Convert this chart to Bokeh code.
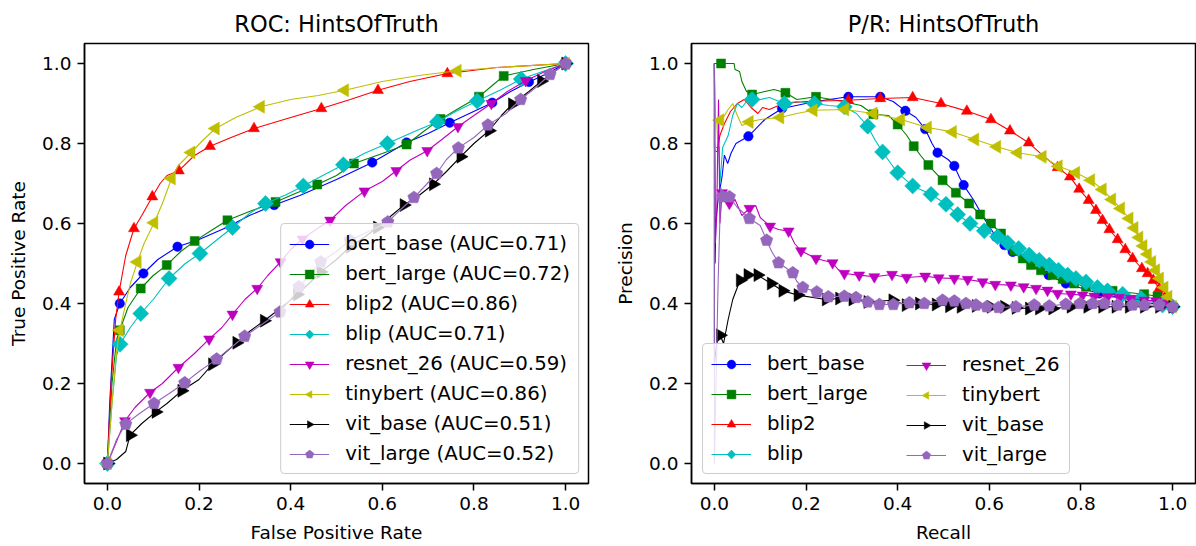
import math
from bokeh.plotting import figure
from bokeh.layouts import row
from bokeh.models import Range1d, FixedTicker, Legend, LegendItem
from bokeh.embed import file_html
from bokeh.resources import INLINE

# ---------------- data ----------------
MODELS = ["bert_base", "bert_large", "blip2", "blip", "resnet_26", "tinybert", "vit_base", "vit_large"]
ROC_AUC = [0.71, 0.72, 0.86, 0.71, 0.59, 0.86, 0.51, 0.52]
TICKS = [0.0, 0.2, 0.4, 0.6, 0.8, 1.0]
TICK_LABELS = ["0.0", "0.2", "0.4", "0.6", "0.8", "1.0"]

# ROC curves: (FPR, TPR) polyline points and marker points
roc_bert_base_line = [(0, 0), (0.005, 0.15), (0.015, 0.36), (0.027, 0.40), (0.05, 0.44), (0.0785, 0.475), (0.11, 0.51), (0.153, 0.542), (0.2, 0.56), (0.26, 0.59), (0.31, 0.62), (0.364, 0.646), (0.42, 0.67), (0.5, 0.71), (0.578, 0.7525), (0.653, 0.8025), (0.7, 0.825), (0.747, 0.852), (0.79, 0.875), (0.84, 0.902), (0.88, 0.93), (0.92, 0.954), (0.96, 0.975), (1, 1)]
roc_bert_base_marks = [(0, 0), (0.027, 0.40), (0.0785, 0.475), (0.153, 0.542), (0.364, 0.646), (0.578, 0.7525), (0.653, 0.8025), (0.747, 0.852), (0.84, 0.902), (0.92, 0.954), (1, 1)]

roc_bert_large_line = [(0, 0), (0.01, 0.2), (0.02, 0.31), (0.027, 0.333), (0.045, 0.39), (0.0727, 0.4375), (0.1, 0.47), (0.1295, 0.496), (0.16, 0.53), (0.1905, 0.556), (0.23, 0.585), (0.262, 0.608), (0.31, 0.63), (0.367, 0.654), (0.41, 0.675), (0.458, 0.6975), (0.5, 0.72), (0.538, 0.75), (0.6, 0.775), (0.653, 0.7975), (0.69, 0.83), (0.727, 0.861), (0.77, 0.89), (0.811, 0.917), (0.84, 0.945), (0.865, 0.969), (0.93, 0.985), (1, 1)]
roc_bert_large_marks = [(0, 0), (0.027, 0.333), (0.0727, 0.4375), (0.1295, 0.496), (0.1905, 0.556), (0.262, 0.608), (0.367, 0.654), (0.458, 0.6975), (0.538, 0.75), (0.653, 0.7975), (0.727, 0.861), (0.811, 0.917), (0.865, 0.969), (1, 1)]

roc_blip2_line = [(0, 0), (0.008, 0.2), (0.018, 0.36), (0.0255, 0.429), (0.04, 0.52), (0.058, 0.5875), (0.075, 0.62), (0.098, 0.667), (0.115, 0.7), (0.13, 0.72), (0.156, 0.732), (0.19, 0.77), (0.224, 0.793), (0.27, 0.815), (0.32, 0.8375), (0.4, 0.865), (0.467, 0.8875), (0.53, 0.91), (0.5905, 0.933), (0.66, 0.955), (0.742, 0.975), (0.85, 0.99), (1, 1)]
roc_blip2_marks = [(0, 0), (0.0255, 0.429), (0.058, 0.5875), (0.098, 0.667), (0.156, 0.732), (0.224, 0.793), (0.32, 0.8375), (0.467, 0.8875), (0.5905, 0.933), (0.742, 0.975), (1, 1)]

roc_blip_line = [(0, 0), (0.01, 0.15), (0.02, 0.27), (0.0276, 0.298), (0.05, 0.34), (0.0727, 0.375), (0.1, 0.41), (0.1345, 0.4625), (0.17, 0.5), (0.202, 0.525), (0.24, 0.56), (0.273, 0.59), (0.31, 0.625), (0.345, 0.65), (0.39, 0.672), (0.4276, 0.694), (0.47, 0.72), (0.515, 0.747), (0.56, 0.775), (0.611, 0.8), (0.67, 0.83), (0.72, 0.854), (0.76, 0.88), (0.807, 0.906), (0.86, 0.935), (0.903, 0.961), (0.95, 0.98), (1, 1)]
roc_blip_marks = [(0, 0), (0.0276, 0.298), (0.0727, 0.375), (0.1345, 0.4625), (0.202, 0.525), (0.273, 0.59), (0.345, 0.65), (0.4276, 0.694), (0.515, 0.747), (0.611, 0.8), (0.72, 0.854), (0.807, 0.906), (0.903, 0.961), (1, 1)]

roc_resnet_26_line = [(0, 0), (0.0385, 0.1067), (0.06, 0.14), (0.093, 0.1775), (0.12, 0.2), (0.155, 0.24), (0.19, 0.275), (0.222, 0.311), (0.25, 0.34), (0.273, 0.373), (0.3, 0.41), (0.327, 0.4375), (0.35, 0.47), (0.378, 0.504), (0.4, 0.535), (0.4255, 0.561), (0.455, 0.585), (0.486, 0.608), (0.52, 0.645), (0.561, 0.681), (0.6, 0.705), (0.6305, 0.732), (0.66, 0.758), (0.698, 0.782), (0.73, 0.81), (0.765, 0.842), (0.8, 0.87), (0.838, 0.9), (0.873, 0.93), (0.913, 0.957), (0.955, 0.98), (1, 1)]
roc_resnet_26_marks = [(0, 0), (0.0385, 0.1067), (0.093, 0.1775), (0.155, 0.24), (0.222, 0.311), (0.273, 0.373), (0.327, 0.4375), (0.378, 0.504), (0.4255, 0.561), (0.486, 0.608), (0.561, 0.681), (0.6305, 0.732), (0.698, 0.782), (0.765, 0.842), (0.838, 0.9), (0.913, 0.957), (1, 1)]

roc_tinybert_line = [(0, 0), (0.01, 0.15), (0.02, 0.28), (0.027, 0.333), (0.04, 0.4), (0.05, 0.45), (0.0655, 0.504), (0.08, 0.55), (0.102, 0.6017), (0.12, 0.65), (0.14, 0.7125), (0.155, 0.745), (0.183, 0.7775), (0.21, 0.81), (0.236, 0.8375), (0.28, 0.865), (0.3345, 0.8917), (0.4, 0.91), (0.46, 0.92), (0.518, 0.933), (0.6, 0.955), (0.68, 0.97), (0.764, 0.9817), (0.85, 0.99), (1, 1)]
roc_tinybert_marks = [(0, 0), (0.027, 0.333), (0.0655, 0.504), (0.102, 0.6017), (0.14, 0.7125), (0.183, 0.7775), (0.236, 0.8375), (0.3345, 0.8917), (0.518, 0.933), (0.764, 0.9817), (1, 1)]

roc_vit_base_line = [(0, 0), (0.02, 0.01), (0.04, 0.03), (0.0495, 0.0708), (0.075, 0.1), (0.1055, 0.129), (0.13, 0.15), (0.162, 0.1817), (0.2, 0.21), (0.229, 0.248), (0.26, 0.28), (0.282, 0.3017), (0.31, 0.33), (0.342, 0.357), (0.38, 0.39), (0.4145, 0.4225), (0.44, 0.45), (0.4655, 0.479), (0.5, 0.51), (0.5295, 0.5417), (0.56, 0.565), (0.589, 0.59), (0.62, 0.62), (0.647, 0.646), (0.68, 0.67), (0.711, 0.698), (0.74, 0.73), (0.771, 0.767), (0.8, 0.8), (0.833, 0.832), (0.86, 0.87), (0.8836, 0.898), (0.92, 0.93), (0.947, 0.956), (1, 1)]
roc_vit_base_marks = [(0, 0), (0.0495, 0.0708), (0.1055, 0.129), (0.162, 0.1817), (0.229, 0.248), (0.282, 0.3017), (0.342, 0.357), (0.4145, 0.4225), (0.4655, 0.479), (0.5295, 0.5417), (0.589, 0.59), (0.647, 0.646), (0.711, 0.698), (0.771, 0.767), (0.833, 0.832), (0.8836, 0.898), (0.947, 0.956), (1, 1)]

roc_vit_large_line = [(0, 0), (0.02, 0.06), (0.04, 0.0983), (0.07, 0.125), (0.1018, 0.15), (0.135, 0.175), (0.1687, 0.2017), (0.2, 0.23), (0.2385, 0.261), (0.27, 0.29), (0.2996, 0.318), (0.34, 0.35), (0.3767, 0.379), (0.4, 0.41), (0.418, 0.4417), (0.44, 0.47), (0.4655, 0.504), (0.5, 0.53), (0.5295, 0.558), (0.57, 0.58), (0.612, 0.604), (0.64, 0.635), (0.669, 0.665), (0.69, 0.69), (0.7185, 0.725), (0.74, 0.76), (0.766, 0.789), (0.8, 0.815), (0.8305, 0.846), (0.87, 0.875), (0.902, 0.91), (0.935, 0.94), (0.966, 0.9725), (1, 1)]
roc_vit_large_marks = [(0, 0), (0.04, 0.0983), (0.1018, 0.15), (0.1687, 0.2017), (0.2385, 0.261), (0.2996, 0.318), (0.3767, 0.379), (0.418, 0.4417), (0.4655, 0.504), (0.5295, 0.558), (0.612, 0.604), (0.669, 0.665), (0.7185, 0.725), (0.766, 0.789), (0.8305, 0.846), (0.902, 0.91), (0.966, 0.9725), (1, 1)]

# Precision/recall curves: (Recall, Precision)
pr_bert_base_line = [(0, 1.0), (0.0015, 0.5), (0.003, 0.6), (0.008, 0.66), (0.0167, 0.717), (0.0218, 0.771), (0.029, 0.75), (0.036, 0.775), (0.047, 0.8), (0.0742, 0.818), (0.11, 0.86), (0.1476, 0.8875), (0.22, 0.905), (0.2924, 0.9167), (0.362, 0.9167), (0.39, 0.905), (0.4167, 0.8817), (0.44, 0.865), (0.46, 0.836), (0.475, 0.8), (0.487, 0.777), (0.51, 0.76), (0.5236, 0.744), (0.535, 0.715), (0.544, 0.696), (0.565, 0.66), (0.59, 0.61), (0.6145, 0.5667), (0.633, 0.546), (0.651, 0.529), (0.69, 0.495), (0.7295, 0.471), (0.767, 0.45), (0.84, 0.425), (0.9127, 0.408), (1.0, 0.392)]
pr_bert_base_marks = [(0.0742, 0.818), (0.1476, 0.8875), (0.2924, 0.9167), (0.362, 0.9167), (0.4167, 0.8817), (0.46, 0.836), (0.487, 0.777), (0.5236, 0.744), (0.544, 0.696), (0.6145, 0.5667), (0.633, 0.546), (0.651, 0.529), (0.7295, 0.471), (0.767, 0.45), (0.84, 0.425), (0.9127, 0.408), (1.0, 0.392)]

pr_bert_large_line = [(0, 1.0), (0.0145, 1.0), (0.043, 1.0), (0.045, 0.985), (0.055, 0.98), (0.06, 0.955), (0.07, 0.93), (0.0822, 0.9225), (0.11, 0.93), (0.13, 0.935), (0.155, 0.9267), (0.18, 0.91), (0.2218, 0.9167), (0.28, 0.905), (0.32, 0.895), (0.347, 0.8733), (0.38, 0.87), (0.4, 0.8475), (0.42, 0.82), (0.435, 0.7933), (0.45, 0.77), (0.467, 0.746), (0.498, 0.708), (0.527, 0.677), (0.556, 0.65), (0.58, 0.6225), (0.6036, 0.6), (0.6255, 0.575), (0.6545, 0.5317), (0.673, 0.5125), (0.691, 0.496), (0.7127, 0.483), (0.738, 0.471), (0.76, 0.461), (0.785, 0.45), (0.811, 0.4417), (0.869, 0.4317), (0.938, 0.4233), (0.967, 0.418), (1.0, 0.392)]
pr_bert_large_marks = [(0.0145, 1.0), (0.0822, 0.9225), (0.155, 0.9267), (0.2218, 0.9167), (0.347, 0.8733), (0.4, 0.8475), (0.435, 0.7933), (0.467, 0.746), (0.498, 0.708), (0.527, 0.677), (0.556, 0.65), (0.58, 0.6225), (0.6036, 0.6), (0.6255, 0.575), (0.6545, 0.5317), (0.673, 0.5125), (0.691, 0.496), (0.7127, 0.483), (0.738, 0.471), (0.76, 0.461), (0.785, 0.45), (0.811, 0.4417), (0.869, 0.4317), (0.938, 0.4233), (0.967, 0.418), (1.0, 0.392)]

pr_blip2_line = [(0, 1.0), (0.002, 0.78), (0.006, 0.78), (0.012, 0.82), (0.022, 0.85), (0.035, 0.88), (0.05, 0.9), (0.065, 0.91), (0.08, 0.89), (0.095, 0.875), (0.105, 0.89), (0.12, 0.885), (0.15, 0.9), (0.2, 0.905), (0.2924, 0.908), (0.362, 0.9125), (0.4327, 0.915), (0.4945, 0.9), (0.551, 0.881), (0.6036, 0.86), (0.645, 0.8317), (0.686, 0.8017), (0.716, 0.771), (0.749, 0.74), (0.776, 0.7167), (0.796, 0.686), (0.8167, 0.658), (0.8327, 0.633), (0.847, 0.608), (0.862, 0.585), (0.88, 0.56), (0.8967, 0.535), (0.9127, 0.5125), (0.933, 0.4875), (0.9455, 0.475), (0.958, 0.458), (0.971, 0.4375), (0.984, 0.417), (1.0, 0.392)]
pr_blip2_marks = [(0.2924, 0.908), (0.362, 0.9125), (0.4327, 0.915), (0.4945, 0.9), (0.551, 0.881), (0.6036, 0.86), (0.645, 0.8317), (0.686, 0.8017), (0.749, 0.74), (0.776, 0.7167), (0.796, 0.686), (0.8167, 0.658), (0.8327, 0.633), (0.847, 0.608), (0.862, 0.585), (0.88, 0.56), (0.8967, 0.535), (0.9127, 0.5125), (0.933, 0.4875), (0.9455, 0.475), (0.958, 0.458), (0.971, 0.4375), (0.984, 0.417), (1.0, 0.392)]

pr_blip_line = [(0, 1.0), (0.0, 0.79), (0.01, 0.79), (0.012, 0.7), (0.018, 0.79), (0.03, 0.82), (0.04, 0.87), (0.05, 0.9), (0.06, 0.89), (0.07, 0.905), (0.0822, 0.91), (0.1, 0.91), (0.12, 0.915), (0.1527, 0.9), (0.18, 0.905), (0.218, 0.9), (0.25, 0.895), (0.2836, 0.8917), (0.31, 0.875), (0.3345, 0.8433), (0.35, 0.81), (0.367, 0.779), (0.385, 0.75), (0.4, 0.7267), (0.4327, 0.694), (0.4727, 0.673), (0.5055, 0.648), (0.531, 0.6225), (0.558, 0.6), (0.589, 0.5817), (0.618, 0.5667), (0.64, 0.5517), (0.664, 0.5375), (0.687, 0.521), (0.709, 0.508), (0.731, 0.496), (0.751, 0.483), (0.771, 0.471), (0.789, 0.4625), (0.811, 0.454), (0.836, 0.44), (0.858, 0.4317), (0.891, 0.4233), (0.931, 0.4125), (0.978, 0.396), (1.0, 0.392)]
pr_blip_marks = [(0.0822, 0.91), (0.1527, 0.9), (0.218, 0.9), (0.2836, 0.8917), (0.3345, 0.8433), (0.367, 0.779), (0.4, 0.7267), (0.4327, 0.694), (0.4727, 0.673), (0.5055, 0.648), (0.531, 0.6225), (0.558, 0.6), (0.589, 0.5817), (0.618, 0.5667), (0.64, 0.5517), (0.664, 0.5375), (0.687, 0.521), (0.709, 0.508), (0.731, 0.496), (0.751, 0.483), (0.771, 0.471), (0.789, 0.4625), (0.811, 0.454), (0.836, 0.44), (0.858, 0.4317), (0.891, 0.4233), (0.931, 0.4125), (0.978, 0.396), (1.0, 0.392)]

pr_resnet_26_line = [(0, 1.0), (0.002, 0.55), (0.005, 0.62), (0.009, 0.91), (0.012, 0.6), (0.0167, 0.6767), (0.025, 0.66), (0.0327, 0.65), (0.045, 0.66), (0.06, 0.62), (0.0764, 0.6375), (0.09, 0.645), (0.1, 0.615), (0.1215, 0.593), (0.14, 0.585), (0.162, 0.581), (0.175, 0.55), (0.189, 0.5317), (0.2218, 0.5125), (0.258, 0.5017), (0.27, 0.485), (0.2836, 0.475), (0.316, 0.471), (0.349, 0.4667), (0.3876, 0.4725), (0.4196, 0.465), (0.46, 0.468), (0.4895, 0.464), (0.5236, 0.4625), (0.5527, 0.46), (0.5855, 0.454), (0.613, 0.4475), (0.647, 0.446), (0.675, 0.4417), (0.702, 0.4375), (0.727, 0.433), (0.749, 0.425), (0.778, 0.4233), (0.8036, 0.421), (0.829, 0.418), (0.858, 0.4167), (0.8836, 0.415), (0.909, 0.4125), (0.938, 0.408), (0.9636, 0.4067), (0.982, 0.4), (1.0, 0.392)]
pr_resnet_26_marks = [(0.0167, 0.6767), (0.0327, 0.65), (0.0764, 0.6375), (0.1215, 0.593), (0.162, 0.581), (0.189, 0.5317), (0.2218, 0.5125), (0.258, 0.5017), (0.2836, 0.475), (0.316, 0.471), (0.349, 0.4667), (0.3876, 0.4725), (0.4196, 0.465), (0.46, 0.468), (0.4895, 0.464), (0.5236, 0.4625), (0.5527, 0.46), (0.5855, 0.454), (0.613, 0.4475), (0.647, 0.446), (0.675, 0.4417), (0.702, 0.4375), (0.727, 0.433), (0.749, 0.425), (0.778, 0.4233), (0.8036, 0.421), (0.829, 0.418), (0.858, 0.4167), (0.8836, 0.415), (0.909, 0.4125), (0.938, 0.408), (0.9636, 0.4067), (0.982, 0.4), (1.0, 0.392)]

pr_tinybert_line = [(0, 1.0), (0.001, 0.77), (0.004, 0.86), (0.0124, 0.8583), (0.022, 0.87), (0.03, 0.885), (0.04, 0.9), (0.05, 0.87), (0.06, 0.845), (0.0764, 0.854), (0.1, 0.86), (0.1433, 0.865), (0.18, 0.875), (0.216, 0.883), (0.285, 0.885), (0.347, 0.875), (0.407, 0.86), (0.4655, 0.84), (0.52, 0.829), (0.5687, 0.81), (0.6167, 0.7917), (0.662, 0.7767), (0.716, 0.7667), (0.751, 0.743), (0.789, 0.7267), (0.8218, 0.7083), (0.847, 0.685), (0.8676, 0.66), (0.887, 0.6375), (0.9055, 0.6125), (0.9164, 0.589), (0.927, 0.565), (0.936, 0.544), (0.9455, 0.523), (0.955, 0.504), (0.9636, 0.483), (0.972, 0.4625), (0.982, 0.44), (0.9905, 0.4167), (1.0, 0.392)]
pr_tinybert_marks = [(0.0124, 0.8583), (0.0764, 0.854), (0.1433, 0.865), (0.216, 0.883), (0.285, 0.885), (0.347, 0.875), (0.407, 0.86), (0.4655, 0.84), (0.52, 0.829), (0.5687, 0.81), (0.6167, 0.7917), (0.662, 0.7767), (0.716, 0.7667), (0.751, 0.743), (0.789, 0.7267), (0.8218, 0.7083), (0.847, 0.685), (0.8676, 0.66), (0.887, 0.6375), (0.9055, 0.6125), (0.9164, 0.589), (0.927, 0.565), (0.936, 0.544), (0.9455, 0.523), (0.955, 0.504), (0.9636, 0.483), (0.972, 0.4625), (0.982, 0.44), (0.9905, 0.4167), (1.0, 0.392)]

pr_vit_base_line = [(0, 1.0), (0.0, 0.25), (0.005, 0.3), (0.0124, 0.3208), (0.02, 0.3), (0.03, 0.36), (0.04, 0.41), (0.05, 0.44), (0.056, 0.4583), (0.0727, 0.471), (0.0945, 0.471), (0.1236, 0.45), (0.149, 0.4317), (0.182, 0.421), (0.2436, 0.41), (0.2727, 0.4125), (0.3018, 0.41), (0.3345, 0.404), (0.389, 0.408), (0.418, 0.396), (0.447, 0.4), (0.4836, 0.3975), (0.5127, 0.3933), (0.538, 0.3917), (0.571, 0.394), (0.6036, 0.3917), (0.6327, 0.3917), (0.658, 0.389), (0.687, 0.3875), (0.709, 0.3875), (0.738, 0.3875), (0.778, 0.3917), (0.8145, 0.3917), (0.847, 0.3917), (0.876, 0.3917), (0.905, 0.3917), (0.938, 0.3917), (0.971, 0.3917), (1.0, 0.3917)]
pr_vit_base_marks = [(0.0124, 0.3208), (0.056, 0.4583), (0.0727, 0.471), (0.0945, 0.471), (0.1236, 0.45), (0.149, 0.4317), (0.182, 0.421), (0.2436, 0.41), (0.2727, 0.4125), (0.3018, 0.41), (0.3345, 0.404), (0.389, 0.408), (0.418, 0.396), (0.447, 0.4), (0.4836, 0.3975), (0.5127, 0.3933), (0.538, 0.3917), (0.571, 0.394), (0.6036, 0.3917), (0.6327, 0.3917), (0.658, 0.389), (0.687, 0.3875), (0.709, 0.3875), (0.738, 0.3875), (0.778, 0.3917), (0.8145, 0.3917), (0.847, 0.3917), (0.876, 0.3917), (0.905, 0.3917), (0.938, 0.3917), (0.971, 0.3917), (1.0, 0.3917)]

pr_vit_large_line = [(0, 1.0), (0.0, 0.0), (0.008, 0.45), (0.014, 0.69), (0.0182, 0.6667), (0.025, 0.68), (0.0327, 0.6667), (0.05, 0.64), (0.06, 0.63), (0.0764, 0.6125), (0.1, 0.595), (0.114, 0.558), (0.125, 0.53), (0.14, 0.5017), (0.155, 0.49), (0.171, 0.4767), (0.18, 0.455), (0.193, 0.44), (0.2233, 0.429), (0.2487, 0.4167), (0.2836, 0.418), (0.309, 0.415), (0.3345, 0.404), (0.36, 0.3975), (0.3905, 0.3975), (0.4255, 0.4017), (0.458, 0.4), (0.498, 0.408), (0.5236, 0.406), (0.549, 0.4), (0.571, 0.396), (0.594, 0.3917), (0.62, 0.39), (0.658, 0.3917), (0.698, 0.396), (0.731, 0.394), (0.767, 0.398), (0.798, 0.4), (0.8255, 0.4), (0.851, 0.4), (0.88, 0.396), (0.9127, 0.396), (0.938, 0.396), (0.971, 0.396), (1.0, 0.392)]
pr_vit_large_marks = [(0.0182, 0.6667), (0.0327, 0.6667), (0.0764, 0.6125), (0.114, 0.558), (0.14, 0.5017), (0.171, 0.4767), (0.193, 0.44), (0.2233, 0.429), (0.2487, 0.4167), (0.2836, 0.418), (0.309, 0.415), (0.3345, 0.404), (0.36, 0.3975), (0.3905, 0.3975), (0.4255, 0.4017), (0.458, 0.4), (0.498, 0.408), (0.5236, 0.406), (0.549, 0.4), (0.571, 0.396), (0.594, 0.3917), (0.62, 0.39), (0.658, 0.3917), (0.698, 0.396), (0.731, 0.394), (0.767, 0.398), (0.798, 0.4), (0.8255, 0.4), (0.851, 0.4), (0.88, 0.396), (0.9127, 0.396), (0.938, 0.396), (0.971, 0.396), (1.0, 0.392)]

ROC_LINES = [roc_bert_base_line, roc_bert_large_line, roc_blip2_line, roc_blip_line,
             roc_resnet_26_line, roc_tinybert_line, roc_vit_base_line, roc_vit_large_line]
ROC_MARKS = [roc_bert_base_marks, roc_bert_large_marks, roc_blip2_marks, roc_blip_marks,
             roc_resnet_26_marks, roc_tinybert_marks, roc_vit_base_marks, roc_vit_large_marks]
PR_LINES = [pr_bert_base_line, pr_bert_large_line, pr_blip2_line, pr_blip_line,
            pr_resnet_26_line, pr_tinybert_line, pr_vit_base_line, pr_vit_large_line]
PR_MARKS = [pr_bert_base_marks, pr_bert_large_marks, pr_blip2_marks, pr_blip_marks,
            pr_resnet_26_marks, pr_tinybert_marks, pr_vit_base_marks, pr_vit_large_marks]

# ---------------- styles ----------------
# (color, kind, marker name or ngon sides, angle, size or radius)
STYLES = [
    ("#0000ff", "scatter", "circle", 0.0, 9.5),
    ("#008000", "scatter", "square", 0.0, 9),
    ("#ff0000", "scatter", "triangle", 0.0, 11),
    ("#00bfbf", "ngon", 4, 0.0, 8),
    ("#bf00bf", "scatter", "inverted_triangle", 0.0, 11),
    ("#bfbf00", "ngon", 3, math.pi / 2, 7.5),
    ("#000000", "ngon", 3, -math.pi / 2, 7.5),
    ("#9467bd", "ngon", 5, 0.0, 6.5),
]
FONT = "DejaVu Sans"
FS = "18.5px"
LFS = "19.8px"


def unzip(pts):
    return [a for a, _ in pts], [b for _, b in pts]


def make_fig(title, xlabel, ylabel, left_border, frame_w, right_border):
    p = figure(frame_width=frame_w, frame_height=440,
               min_border_left=left_border, min_border_right=right_border,
               min_border_top=43, min_border_bottom=63,
               x_range=Range1d(-0.05, 1.05), y_range=Range1d(-0.05, 1.05),
               output_backend="svg", toolbar_location=None, title=title)
    p.title.align = "center"
    p.title.text_font = FONT
    p.title.text_font_size = "22.5px"
    p.title.text_font_style = "normal"
    p.title.text_color = "black"
    p.title.standoff = 14
    p.xgrid.visible = False
    p.ygrid.visible = False
    p.outline_line_color = "black"
    p.outline_line_width = 1.5
    p.outline_line_alpha = 1.0
    p.background_fill_color = "white"
    p.border_fill_color = "white"
    overrides = {t: l for t, l in zip(TICKS, TICK_LABELS)}
    for ax, lab in ((p.xaxis[0], xlabel), (p.yaxis[0], ylabel)):
        ax.ticker = FixedTicker(ticks=TICKS)
        ax.major_label_overrides = overrides
        ax.axis_label = lab
        ax.axis_label_text_font = FONT
        ax.axis_label_text_font_size = FS
        ax.axis_label_text_font_style = "normal"
        ax.axis_label_text_color = "black"
        ax.major_label_text_font = FONT
        ax.major_label_text_font_size = FS
        ax.major_label_text_color = "black"
        ax.axis_line_color = "black"
        ax.axis_line_width = 1.5
        ax.major_tick_line_color = "black"
        ax.major_tick_line_width = 1.5
        ax.major_tick_out = 7
        ax.major_tick_in = 0
        ax.minor_tick_out = 0
        ax.minor_tick_in = 0
        ax.major_label_standoff = 6
    p.xaxis[0].axis_label_standoff = 9
    p.yaxis[0].axis_label_standoff = 10
    return p


def draw(p, lines, marks):
    items = []
    for (color, kind, mk_type, angle, size), ln, mk in zip(STYLES, lines, marks):
        lx, ly = unzip(ln)
        mx, my = unzip(mk)
        lr = p.line(lx, ly, line_color=color, line_width=1.1)
        sr = None
        if kind == "ngon" and hasattr(p, "ngon"):
            try:
                sr = p.ngon(mx, my, radius=size, radius_units="screen", n=mk_type, angle=angle,
                            fill_color=color, line_color=color, line_width=0.5)
            except Exception:
                sr = None
        if sr is None:
            marker = mk_type if kind == "scatter" else "hex"
            sz = size if kind == "scatter" else 10
            sr = p.scatter(mx, my, marker=marker, size=sz,
                           fill_color=color, line_color=color, line_width=0.5)
        items.append([lr, sr])
    return items


def style_legend(lg, border=True):
    lg.label_text_font = FONT
    lg.label_text_font_size = LFS
    lg.label_text_color = "black"
    lg.glyph_width = 40
    lg.glyph_height = 22
    lg.label_height = 22
    lg.label_standoff = 16
    lg.spacing = 7
    lg.padding = 8
    lg.margin = 9
    if border:
        lg.border_line_color = "#cccccc"
        lg.border_line_width = 1
        lg.border_line_alpha = 1.0
        lg.background_fill_color = "white"
        lg.background_fill_alpha = 0.8
        if "border_radius" in lg.properties():
            lg.border_radius = 4
    else:
        lg.border_line_alpha = 0.0
        lg.background_fill_alpha = 0.0


# ---------------- ROC ----------------
p1 = make_fig("ROC: HintsOfTruth", "False Positive Rate", "True Positive Rate", 84, 504, 24)
roc_items = draw(p1, ROC_LINES, ROC_MARKS)
lg1 = Legend(items=[LegendItem(label=f"{m} (AUC={a:.2f})", renderers=r)
                    for m, a, r in zip(MODELS, ROC_AUC, roc_items)],
             location="bottom_right")
style_legend(lg1)
p1.add_layout(lg1)

# ---------------- P/R ----------------
p2 = make_fig("P/R: HintsOfTruth", "Recall", "Precision", 76, 504, 4)
pr_items = draw(p2, PR_LINES, PR_MARKS)
pr_legend_items = [LegendItem(label=m, renderers=r) for m, r in zip(MODELS, pr_items)]
lg2a = Legend(items=pr_legend_items[:4], location=(11, 9))
style_legend(lg2a)
lg2a.label_width = 294
lg2b = Legend(items=pr_legend_items[4:], location=(207, 9))
style_legend(lg2b, border=False)
p2.add_layout(lg2a)
p2.add_layout(lg2b)

layout = row(p1, p2)
open("out.html", "w").write(file_html(layout, INLINE))
